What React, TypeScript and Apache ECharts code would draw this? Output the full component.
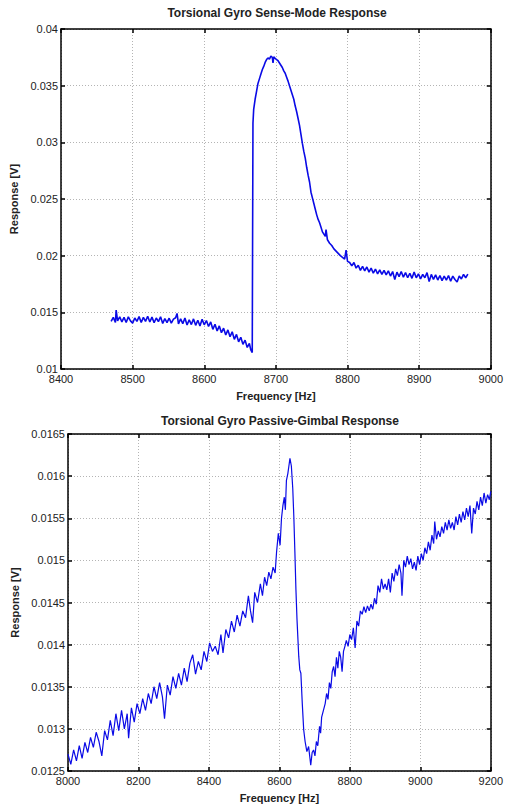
import React, { useEffect, useRef } from "react";
import * as echarts from "echarts";

const senseTitle = "Torsional Gyro Sense-Mode Response";
const gimbalTitle = "Torsional Gyro Passive-Gimbal Response";
const xName = "Frequency [Hz]";
const yName = "Response [V]";

// Sense-mode response: [frequency Hz, response V]
const senseMode: [number, number][] = [
  [8470, 0.0142], [8473, 0.01455], [8476, 0.0141], [8477, 0.0152], [8479, 0.01425],
  [8482, 0.0146], [8485, 0.01415], [8488, 0.01455], [8491, 0.0141], [8494, 0.0146],
  [8497, 0.01425], [8500, 0.01405], [8503, 0.0145], [8506, 0.0142], [8509, 0.01462],
  [8512, 0.0141], [8515, 0.01455], [8518, 0.0142], [8521, 0.01465], [8524, 0.01415],
  [8527, 0.01458], [8530, 0.01408], [8533, 0.0145], [8536, 0.01418], [8539, 0.0146],
  [8542, 0.01402], [8545, 0.01445], [8548, 0.0141], [8551, 0.01448], [8554, 0.01405],
  [8557, 0.0144], [8560, 0.01452], [8562, 0.0149], [8564, 0.01398], [8567, 0.01442],
  [8570, 0.014], [8573, 0.0145], [8576, 0.01388], [8579, 0.01435], [8582, 0.01392],
  [8585, 0.01442], [8588, 0.01385], [8591, 0.0143], [8594, 0.0138], [8597, 0.01438],
  [8600, 0.0139], [8603, 0.01428], [8606, 0.01375], [8609, 0.01415], [8612, 0.0135],
  [8615, 0.01395], [8618, 0.01335], [8621, 0.0138], [8624, 0.0132], [8627, 0.0136],
  [8630, 0.013], [8633, 0.01345], [8636, 0.01285], [8639, 0.01328], [8642, 0.01262],
  [8645, 0.01305], [8648, 0.0124], [8651, 0.0128], [8654, 0.01218], [8657, 0.01255],
  [8660, 0.0119], [8663, 0.01225], [8665, 0.01168], [8667, 0.01145], [8668, 0.0317],
  [8669, 0.0329], [8671, 0.0338], [8673, 0.0345], [8675, 0.0352], [8677, 0.0356],
  [8679, 0.036], [8681, 0.0364], [8683, 0.0367], [8685, 0.03705], [8687, 0.0373],
  [8689, 0.03745], [8691, 0.03735], [8693, 0.0376], [8695, 0.0375], [8696, 0.037],
  [8697, 0.03755], [8699, 0.0374], [8701, 0.0373], [8703, 0.0372], [8705, 0.037],
  [8707, 0.0368], [8709, 0.0366], [8711, 0.0363], [8713, 0.0361], [8715, 0.03575],
  [8717, 0.0354], [8719, 0.035], [8721, 0.0346], [8723, 0.0342], [8725, 0.0338],
  [8727, 0.0332], [8729, 0.0327], [8731, 0.0321], [8733, 0.0315], [8735, 0.0307],
  [8737, 0.0299], [8739, 0.0292], [8741, 0.0286], [8743, 0.0278], [8745, 0.0271],
  [8747, 0.0265], [8749, 0.0256], [8751, 0.0251], [8753, 0.0246], [8755, 0.0241],
  [8757, 0.0236], [8759, 0.0232], [8761, 0.0229], [8763, 0.0225], [8765, 0.0221],
  [8767, 0.0219], [8769, 0.0217], [8770, 0.0223], [8772, 0.0214], [8775, 0.0211],
  [8778, 0.0209], [8781, 0.0206], [8784, 0.0204], [8787, 0.0202], [8790, 0.02],
  [8793, 0.01985], [8796, 0.0197], [8798, 0.0205], [8800, 0.0195], [8803, 0.0194],
  [8806, 0.0191], [8809, 0.0194], [8812, 0.0189], [8815, 0.01915], [8818, 0.0187],
  [8821, 0.01905], [8824, 0.01865], [8827, 0.019], [8830, 0.01855], [8833, 0.0189],
  [8836, 0.01845], [8839, 0.01882], [8842, 0.0184], [8845, 0.01875], [8848, 0.01835],
  [8851, 0.0187], [8854, 0.0183], [8857, 0.01866], [8860, 0.0182], [8863, 0.0186],
  [8866, 0.0179], [8869, 0.01855], [8872, 0.01815], [8875, 0.0186], [8878, 0.0181],
  [8881, 0.0185], [8884, 0.01805], [8887, 0.01845], [8890, 0.018], [8893, 0.01855],
  [8896, 0.01805], [8899, 0.0184], [8902, 0.01795], [8905, 0.01835], [8908, 0.01805],
  [8911, 0.0185], [8914, 0.01772], [8917, 0.01835], [8920, 0.0179], [8923, 0.0183],
  [8926, 0.01785], [8929, 0.01825], [8932, 0.0178], [8935, 0.0182], [8938, 0.01785],
  [8941, 0.01825], [8944, 0.01775], [8947, 0.0182], [8950, 0.0179], [8953, 0.01768],
  [8956, 0.0182], [8959, 0.01795], [8962, 0.01835], [8965, 0.01805], [8968, 0.01838],
];

// Passive-gimbal response: [frequency Hz, response V]
const passiveGimbal: [number, number][] = [
  [8000, 0.0127], [8008, 0.01258], [8016, 0.01275], [8024, 0.01262], [8032, 0.0128],
  [8040, 0.01265], [8048, 0.01284], [8056, 0.01272], [8064, 0.0129], [8072, 0.01278],
  [8080, 0.01296], [8088, 0.01285], [8096, 0.01268], [8104, 0.01298], [8112, 0.01287],
  [8120, 0.0131], [8128, 0.01292], [8136, 0.01318], [8144, 0.01298], [8152, 0.01322],
  [8160, 0.013], [8168, 0.01318], [8172, 0.01289], [8180, 0.01325], [8188, 0.01308],
  [8196, 0.0133], [8204, 0.01318], [8212, 0.01336], [8220, 0.01322], [8228, 0.01342],
  [8236, 0.0133], [8244, 0.0135], [8252, 0.01336], [8260, 0.01355], [8268, 0.01338],
  [8274, 0.01312], [8282, 0.01352], [8290, 0.0134], [8298, 0.01362], [8306, 0.01348],
  [8314, 0.01366], [8322, 0.01352], [8330, 0.01372], [8338, 0.01356], [8346, 0.01378],
  [8354, 0.01388], [8362, 0.01365], [8370, 0.0138], [8378, 0.0137], [8386, 0.01392],
  [8394, 0.0138], [8402, 0.01402], [8410, 0.01392], [8418, 0.01398], [8426, 0.01388],
  [8434, 0.01412], [8440, 0.0139], [8448, 0.01418], [8456, 0.01408], [8464, 0.01428],
  [8472, 0.01415], [8480, 0.01435], [8488, 0.01422], [8496, 0.0144], [8504, 0.01432],
  [8512, 0.01458], [8518, 0.0144], [8524, 0.01426], [8530, 0.01462], [8538, 0.0145],
  [8546, 0.01472], [8552, 0.01458], [8558, 0.0148], [8564, 0.0147], [8570, 0.01486],
  [8576, 0.01478], [8582, 0.01492], [8588, 0.01485], [8592, 0.0151], [8597, 0.01532],
  [8602, 0.01518], [8606, 0.0155], [8610, 0.01565], [8614, 0.01575], [8617, 0.0156],
  [8620, 0.01595], [8624, 0.01603], [8627, 0.01612], [8630, 0.01621], [8634, 0.01612],
  [8638, 0.01585], [8641, 0.01552], [8644, 0.0151], [8647, 0.01465], [8650, 0.0143],
  [8655, 0.01386], [8658, 0.0137], [8661, 0.01366], [8665, 0.0133], [8669, 0.01299],
  [8673, 0.01285], [8678, 0.01273], [8683, 0.01279], [8686, 0.01268], [8689, 0.01257],
  [8693, 0.01272], [8697, 0.01275], [8701, 0.01268], [8705, 0.01285], [8709, 0.0128],
  [8714, 0.01303], [8717, 0.01295], [8720, 0.01314], [8725, 0.01322], [8730, 0.0133],
  [8734, 0.01342], [8738, 0.01335], [8742, 0.01355], [8746, 0.01348], [8750, 0.01368],
  [8754, 0.01374], [8758, 0.01362], [8762, 0.01385], [8766, 0.01372], [8770, 0.01392],
  [8774, 0.01385], [8778, 0.01368], [8782, 0.01392], [8786, 0.01398], [8790, 0.01405],
  [8795, 0.01398], [8800, 0.01412], [8805, 0.01406], [8810, 0.0142], [8815, 0.01396],
  [8820, 0.01428], [8825, 0.01422], [8830, 0.0144], [8835, 0.01436], [8840, 0.01445],
  [8845, 0.01438], [8850, 0.01446], [8855, 0.0144], [8860, 0.01448], [8865, 0.01442],
  [8870, 0.01455], [8875, 0.01448], [8880, 0.0147], [8885, 0.01462], [8890, 0.01478],
  [8895, 0.01466], [8900, 0.01472], [8905, 0.01465], [8910, 0.01478], [8915, 0.01462],
  [8920, 0.01485], [8925, 0.01475], [8930, 0.0149], [8935, 0.01482], [8940, 0.01495],
  [8945, 0.01485], [8948, 0.01458], [8953, 0.015], [8958, 0.01492], [8963, 0.01505],
  [8968, 0.01495], [8973, 0.01502], [8978, 0.0149], [8983, 0.01498], [8988, 0.01488],
  [8993, 0.01505], [8998, 0.01495], [9003, 0.01508], [9008, 0.015], [9013, 0.01515],
  [9018, 0.01508], [9023, 0.01522], [9028, 0.01512], [9033, 0.0153], [9038, 0.0152],
  [9041, 0.01546], [9046, 0.01525], [9051, 0.01535], [9056, 0.01528], [9061, 0.0154],
  [9066, 0.01532], [9071, 0.01545], [9076, 0.01536], [9081, 0.01548], [9086, 0.01538],
  [9091, 0.01545], [9096, 0.01536], [9101, 0.01552], [9106, 0.01542], [9111, 0.01555],
  [9116, 0.01545], [9121, 0.01558], [9126, 0.01548], [9131, 0.01562], [9136, 0.01552],
  [9141, 0.01565], [9146, 0.01532], [9151, 0.01562], [9156, 0.01555], [9161, 0.0157],
  [9166, 0.0156], [9171, 0.01575], [9176, 0.01565], [9181, 0.0158], [9186, 0.01568],
  [9191, 0.01578], [9196, 0.01572], [9200, 0.01582],
];

const topXRange = { min: 8400, max: 9000, interval: 100 };
const topYRange = { min: 0.01, max: 0.04, interval: 0.005 };
const botXRange = { min: 8000, max: 9200, interval: 200 };
const botYRange = { min: 0.0125, max: 0.0165, interval: 0.0005 };

const FONT = "Liberation Sans, Arial, sans-serif";
const LINE_COLOR = "#0a0ae6";

function mainX(grid: number, r: any) {
  return {
    type: "value", gridIndex: grid, ...r, position: "bottom",
    name: xName, nameLocation: "middle", nameGap: 21,
    nameTextStyle: { fontFamily: FONT, fontWeight: "bold", fontSize: 11, color: "#222" },
    axisLine: { show: true, onZero: false, lineStyle: { color: "#000", width: 1.5 } },
    axisTick: { show: true, inside: true, length: 4, lineStyle: { color: "#000", width: 1.5 } },
    axisLabel: { fontFamily: FONT, fontSize: 11, color: "#222", margin: 4, formatter: (v: number) => String(v) },
    splitLine: { show: true, lineStyle: { color: "#b4b4b4", type: [1, 2], width: 1 } },
  };
}
function mirrorX(grid: number, r: any) {
  return {
    type: "value", gridIndex: grid, ...r, position: "top",
    axisLine: { show: true, onZero: false, lineStyle: { color: "#000", width: 1.5 } },
    axisTick: { show: true, inside: true, length: 4, lineStyle: { color: "#000", width: 1.5 } },
    axisLabel: { show: false }, splitLine: { show: false },
  };
}
function mainY(grid: number, r: any) {
  return {
    type: "value", gridIndex: grid, ...r, position: "left",
    name: yName, nameLocation: "middle", nameGap: 40,
    nameTextStyle: { fontFamily: FONT, fontWeight: "bold", fontSize: 11, color: "#222" },
    axisLine: { show: true, onZero: false, lineStyle: { color: "#000", width: 1.5 } },
    axisTick: { show: true, inside: true, length: 4, lineStyle: { color: "#000", width: 1.5 } },
    axisLabel: { fontFamily: FONT, fontSize: 11, color: "#222", margin: 3 },
    splitLine: { show: true, lineStyle: { color: "#b4b4b4", type: [1, 2], width: 1 } },
  };
}
function mirrorY(grid: number, r: any) {
  return {
    type: "value", gridIndex: grid, ...r, position: "right",
    axisLine: { show: true, onZero: false, lineStyle: { color: "#000", width: 1.5 } },
    axisTick: { show: true, inside: true, length: 4, lineStyle: { color: "#000", width: 1.5 } },
    axisLabel: { show: false }, splitLine: { show: false },
  };
}

export default function App() {
  const ref = useRef<HTMLDivElement>(null);
  useEffect(() => {
    if (!ref.current) return;
    const chart = echarts.init(ref.current, null, { renderer: "svg" });
    chart.setOption({
      animation: false,
      backgroundColor: "#ffffff",
      title: [
        { text: senseTitle, left: 272, top: 2, textAlign: "center",
          textStyle: { fontFamily: FONT, fontSize: 12, fontWeight: "bold", color: "#222" } },
        { text: gimbalTitle, left: 275, top: 410, textAlign: "center",
          textStyle: { fontFamily: FONT, fontSize: 12, fontWeight: "bold", color: "#222" } },
      ],
      grid: [
        { left: 61, top: 29, width: 432, height: 340, show: false },
        { left: 68, top: 434, width: 425, height: 337, show: false },
      ],
      xAxis: [mainX(0, topXRange), mirrorX(0, topXRange), mainX(1, botXRange), mirrorX(1, botXRange)],
      yAxis: [mainY(0, topYRange), mirrorY(0, topYRange), mainY(1, botYRange), mirrorY(1, botYRange)],
      series: [
        { type: "line", xAxisIndex: 0, yAxisIndex: 0, data: senseMode, showSymbol: false,
          lineStyle: { color: LINE_COLOR, width: 1.6 }, itemStyle: { color: LINE_COLOR } },
        { type: "line", xAxisIndex: 2, yAxisIndex: 2, data: passiveGimbal, showSymbol: false,
          lineStyle: { color: LINE_COLOR, width: 1.2 }, itemStyle: { color: LINE_COLOR } },
      ],
    });
    return () => chart.dispose();
  }, []);
  return (
    <div ref={ref} style={{ position: "fixed", left: 0, top: 0, width: 506, height: 806, background: "#fff" }} />
  );
}
